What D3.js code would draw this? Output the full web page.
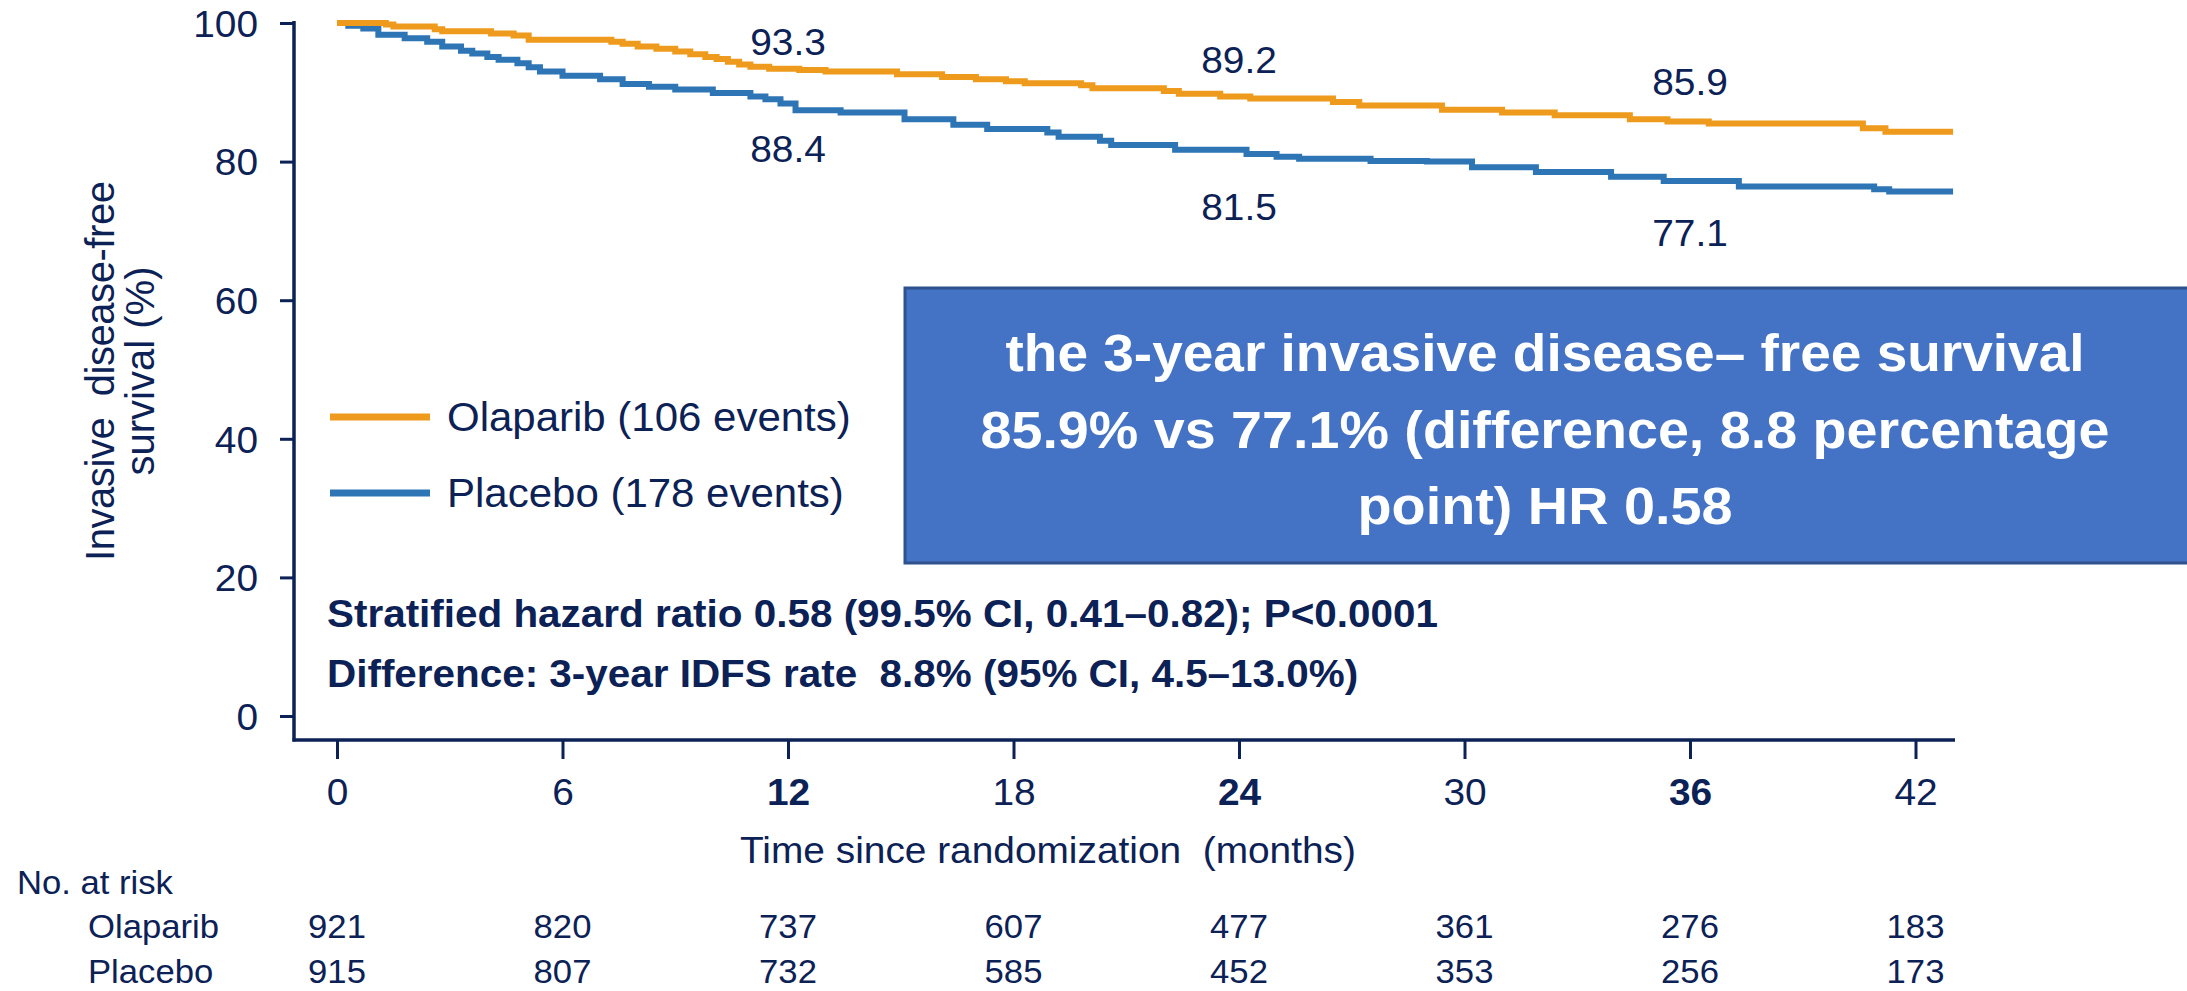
<!DOCTYPE html>
<html>
<head>
<meta charset="utf-8">
<script src="https://cdn.jsdelivr.net/npm/d3@7"></script>
<style>
body{margin:0;background:#fff;}
svg{display:block;}
</style>
</head>
<body>
<svg id="chart" width="2187" height="991"></svg>
<script>
//---data---
var olaTimes  =[0,1.3,1.5,2.6,2.8,4.1,4.7,5.1,7.3,7.6,8.0,8.5,9.0,9.4,9.8,10.1,10.4,10.7,11.0,11.5,12.3,13.0,14.9,16.1,17.0,17.8,18.3,19.8,20.1,22.0,22.4,23.5,24.3,26.5,27.2,29.4,31.0,32.4,34.4,35.4,36.5,40.6,41.2,43.0]
var olaValues =[100,99.8,99.5,99.1,98.8,98.5,98.2,97.6,97.3,97.0,96.6,96.3,95.9,95.5,95.1,94.8,94.4,94.0,93.7,93.4,93.2,93.0,92.6,92.2,91.9,91.6,91.3,91.0,90.6,90.2,89.8,89.4,89.1,88.6,88.1,87.5,87.1,86.7,86.1,85.8,85.5,84.8,84.3,84.3]
var plaTimes  =[0,0.3,0.7,1.1,1.8,2.4,2.8,3.3,3.6,4.0,4.3,4.8,5.1,5.4,6.0,7.0,7.6,8.3,9.0,10.0,11.0,11.4,11.8,12.2,13.4,15.1,16.4,17.3,18.9,19.2,20.3,20.6,22.3,24.2,25.0,25.6,27.5,29.0,30.2,31.9,33.9,35.3,37.3,40.9,41.3,43.0]
var plaValues =[100,99.6,99.2,98.3,97.8,97.3,96.6,96.0,95.6,95.1,94.7,94.2,93.6,93.0,92.4,91.9,91.2,90.8,90.4,89.9,89.4,89.0,88.4,87.4,87.1,86.1,85.3,84.7,84.2,83.6,83.0,82.4,81.7,81.1,80.7,80.4,80.1,80.0,79.2,78.5,77.8,77.2,76.4,76.0,75.7,75.7]

var xTicks    =[0,6,12,18,24,30,36,42]
var yTicks    =[0,20,40,60,80,100]
var boldTicks =[12,24,36]
var atRiskOla =[921,820,737,607,477,361,276,183]
var atRiskPla =[915,807,732,585,452,353,256,173]
var labelMonths=[12,24,36]
var labelOla  =["93.3","89.2","85.9"]
var labelPla  =["88.4","81.5","77.1"]
var boxLines  =["the 3-year invasive disease\u2013 free survival","85.9% vs 77.1% (difference, 8.8 percentage","point) HR 0.58"]

var navy="#0c2155"
var orange="#ee9a1c"
var blue="#2e75b6"
var font="'Liberation Sans', Arial, sans-serif"
var sx=1.05   //---the source figure is a little stretched sideways---

var svg=d3.select("#chart")

var xScale=d3.scaleLinear().domain([0,42]).range([337,1915.5])
var yScale=d3.scaleLinear().domain([0,100]).range([716,23])

var axisX=294
var axisY=740

//---y axis---
var yAxisG=svg.append("g")
 .attr("transform","translate("+axisX+",0)")
 .call(d3.axisLeft(yScale).tickValues(yTicks).tickSize(14).tickFormat(d3.format("d")))
yAxisG.select(".domain").remove()
yAxisG.selectAll("line").attr("stroke",navy).attr("stroke-width",3)
yAxisG.selectAll("text")
 .attr("x",0).attr("dy","0.36em")
 .attr("transform","translate(-36,0)scale("+sx+",1)")
 .attr("fill",navy).attr("font-family",font).attr("font-size",37)
 .attr("text-anchor","end")

svg.append("line")
 .attr("x1",axisX).attr("x2",axisX).attr("y1",21).attr("y2",axisY+1.5)
 .attr("stroke",navy).attr("stroke-width",3.5)

//---x axis---
var xAxisG=svg.append("g")
 .attr("transform","translate(0,"+axisY+")")
 .call(d3.axisBottom(xScale).tickValues(xTicks).tickSize(19).tickFormat(d3.format("d")))
xAxisG.select(".domain").remove()
xAxisG.selectAll("line").attr("stroke",navy).attr("stroke-width",3)
xAxisG.selectAll("text")
 .attr("y",0).attr("dy","0.36em")
 .attr("transform","translate(0,52)scale("+sx+",1)")
 .attr("fill",navy).attr("font-family",font).attr("font-size",37)
 .attr("font-weight",function(d){return boldTicks.indexOf(d)>=0?"bold":"normal"})

svg.append("line")
 .attr("x1",axisX-1.5).attr("x2",1955).attr("y1",axisY).attr("y2",axisY)
 .attr("stroke",navy).attr("stroke-width",3.5)

//---curves---
var km=d3.line()
 .x(function(d){return xScale(d[0])})
 .y(function(d){return yScale(d[1])})
 .curve(d3.curveStepAfter)

svg.append("path")
 .datum(d3.zip(plaTimes,plaValues))
 .attr("fill","none").attr("stroke",blue).attr("stroke-width",6)
 .attr("d",km)

svg.append("path")
 .datum(d3.zip(olaTimes,olaValues))
 .attr("fill","none").attr("stroke",orange).attr("stroke-width",6)
 .attr("d",km)

//---helper for stretched text---
function addText(x,y,str,size,weight,anchor)
{
  return svg.append("text")
   .attr("transform","translate("+x+","+y+")scale("+sx+",1)")
   .attr("dy","0.36em")
   .attr("fill",navy)
   .attr("font-family",font)
   .attr("font-size",size)
   .attr("font-weight",weight||"normal")
   .attr("text-anchor",anchor||"start")
   .attr("xml:space","preserve")
   .text(str)
}

//---rate labels---
labelMonths.forEach(function(m,i){
  addText(xScale(m),[42,60,82][i],labelOla[i],37,"normal","middle")
  addText(xScale(m),[149,207,233][i],labelPla[i],37,"normal","middle")
})

//---legend---
svg.append("line").attr("x1",330).attr("x2",430).attr("y1",417).attr("y2",417)
 .attr("stroke",orange).attr("stroke-width",7)
svg.append("line").attr("x1",330).attr("x2",430).attr("y1",493).attr("y2",493)
 .attr("stroke",blue).attr("stroke-width",7)
addText(447,417,"Olaparib (106 events)",40)
addText(447,493,"Placebo (178 events)",40)

//---stats---
addText(327,613,"Stratified hazard ratio 0.58 (99.5% CI, 0.41\u20130.82); P<0.0001",38.5,"bold")
addText(327,673,"Difference: 3-year IDFS rate  8.8% (95% CI, 4.5\u201313.0%)",38.5,"bold")

//---axis titles---
addText(1048,850,"Time since randomization  (months)",37,"normal","middle")

var yTitle=svg.append("g").attr("transform","translate(0,371)rotate(-90)")
yTitle.append("text").attr("x",0).attr("y",100).attr("dy","0.36em")
 .attr("text-anchor","middle").attr("fill",navy).attr("font-family",font).attr("font-size",40)
 .attr("xml:space","preserve")
 .attr("textLength",380).attr("lengthAdjust","spacing")
 .text("Invasive  disease-free")
yTitle.append("text").attr("x",0).attr("y",140).attr("dy","0.36em")
 .attr("text-anchor","middle").attr("fill",navy).attr("font-family",font).attr("font-size",40)
 .text("survival (%)")

//---number at risk---
addText(17,882,"No. at risk",33)
addText(88,926,"Olaparib",33)
addText(88,971,"Placebo",33)
xTicks.forEach(function(t,i){
  addText(xScale(t),926,atRiskOla[i],33,"normal","middle")
  addText(xScale(t),971,atRiskPla[i],33,"normal","middle")
})

//---summary box---
svg.append("rect")
 .attr("x",905).attr("y",288).attr("width",1300).attr("height",275)
 .attr("fill","#4472c4").attr("stroke","#2f528f").attr("stroke-width",3)

var boxBase=[371,448,524]
var boxWidth=[1079,1129,375]
boxLines.forEach(function(s,i){
  svg.append("text")
   .attr("x",1545).attr("y",boxBase[i])
   .attr("text-anchor","middle")
   .attr("fill","#fff")
   .attr("font-family","'Liberation Sans Narrow', 'Liberation Sans', Arial, sans-serif")
   .attr("font-weight","bold")
   .attr("font-size",51)
   .attr("textLength",boxWidth[i])
   .attr("lengthAdjust","spacingAndGlyphs")
   .text(s)
})
</script>
</body>
</html>
